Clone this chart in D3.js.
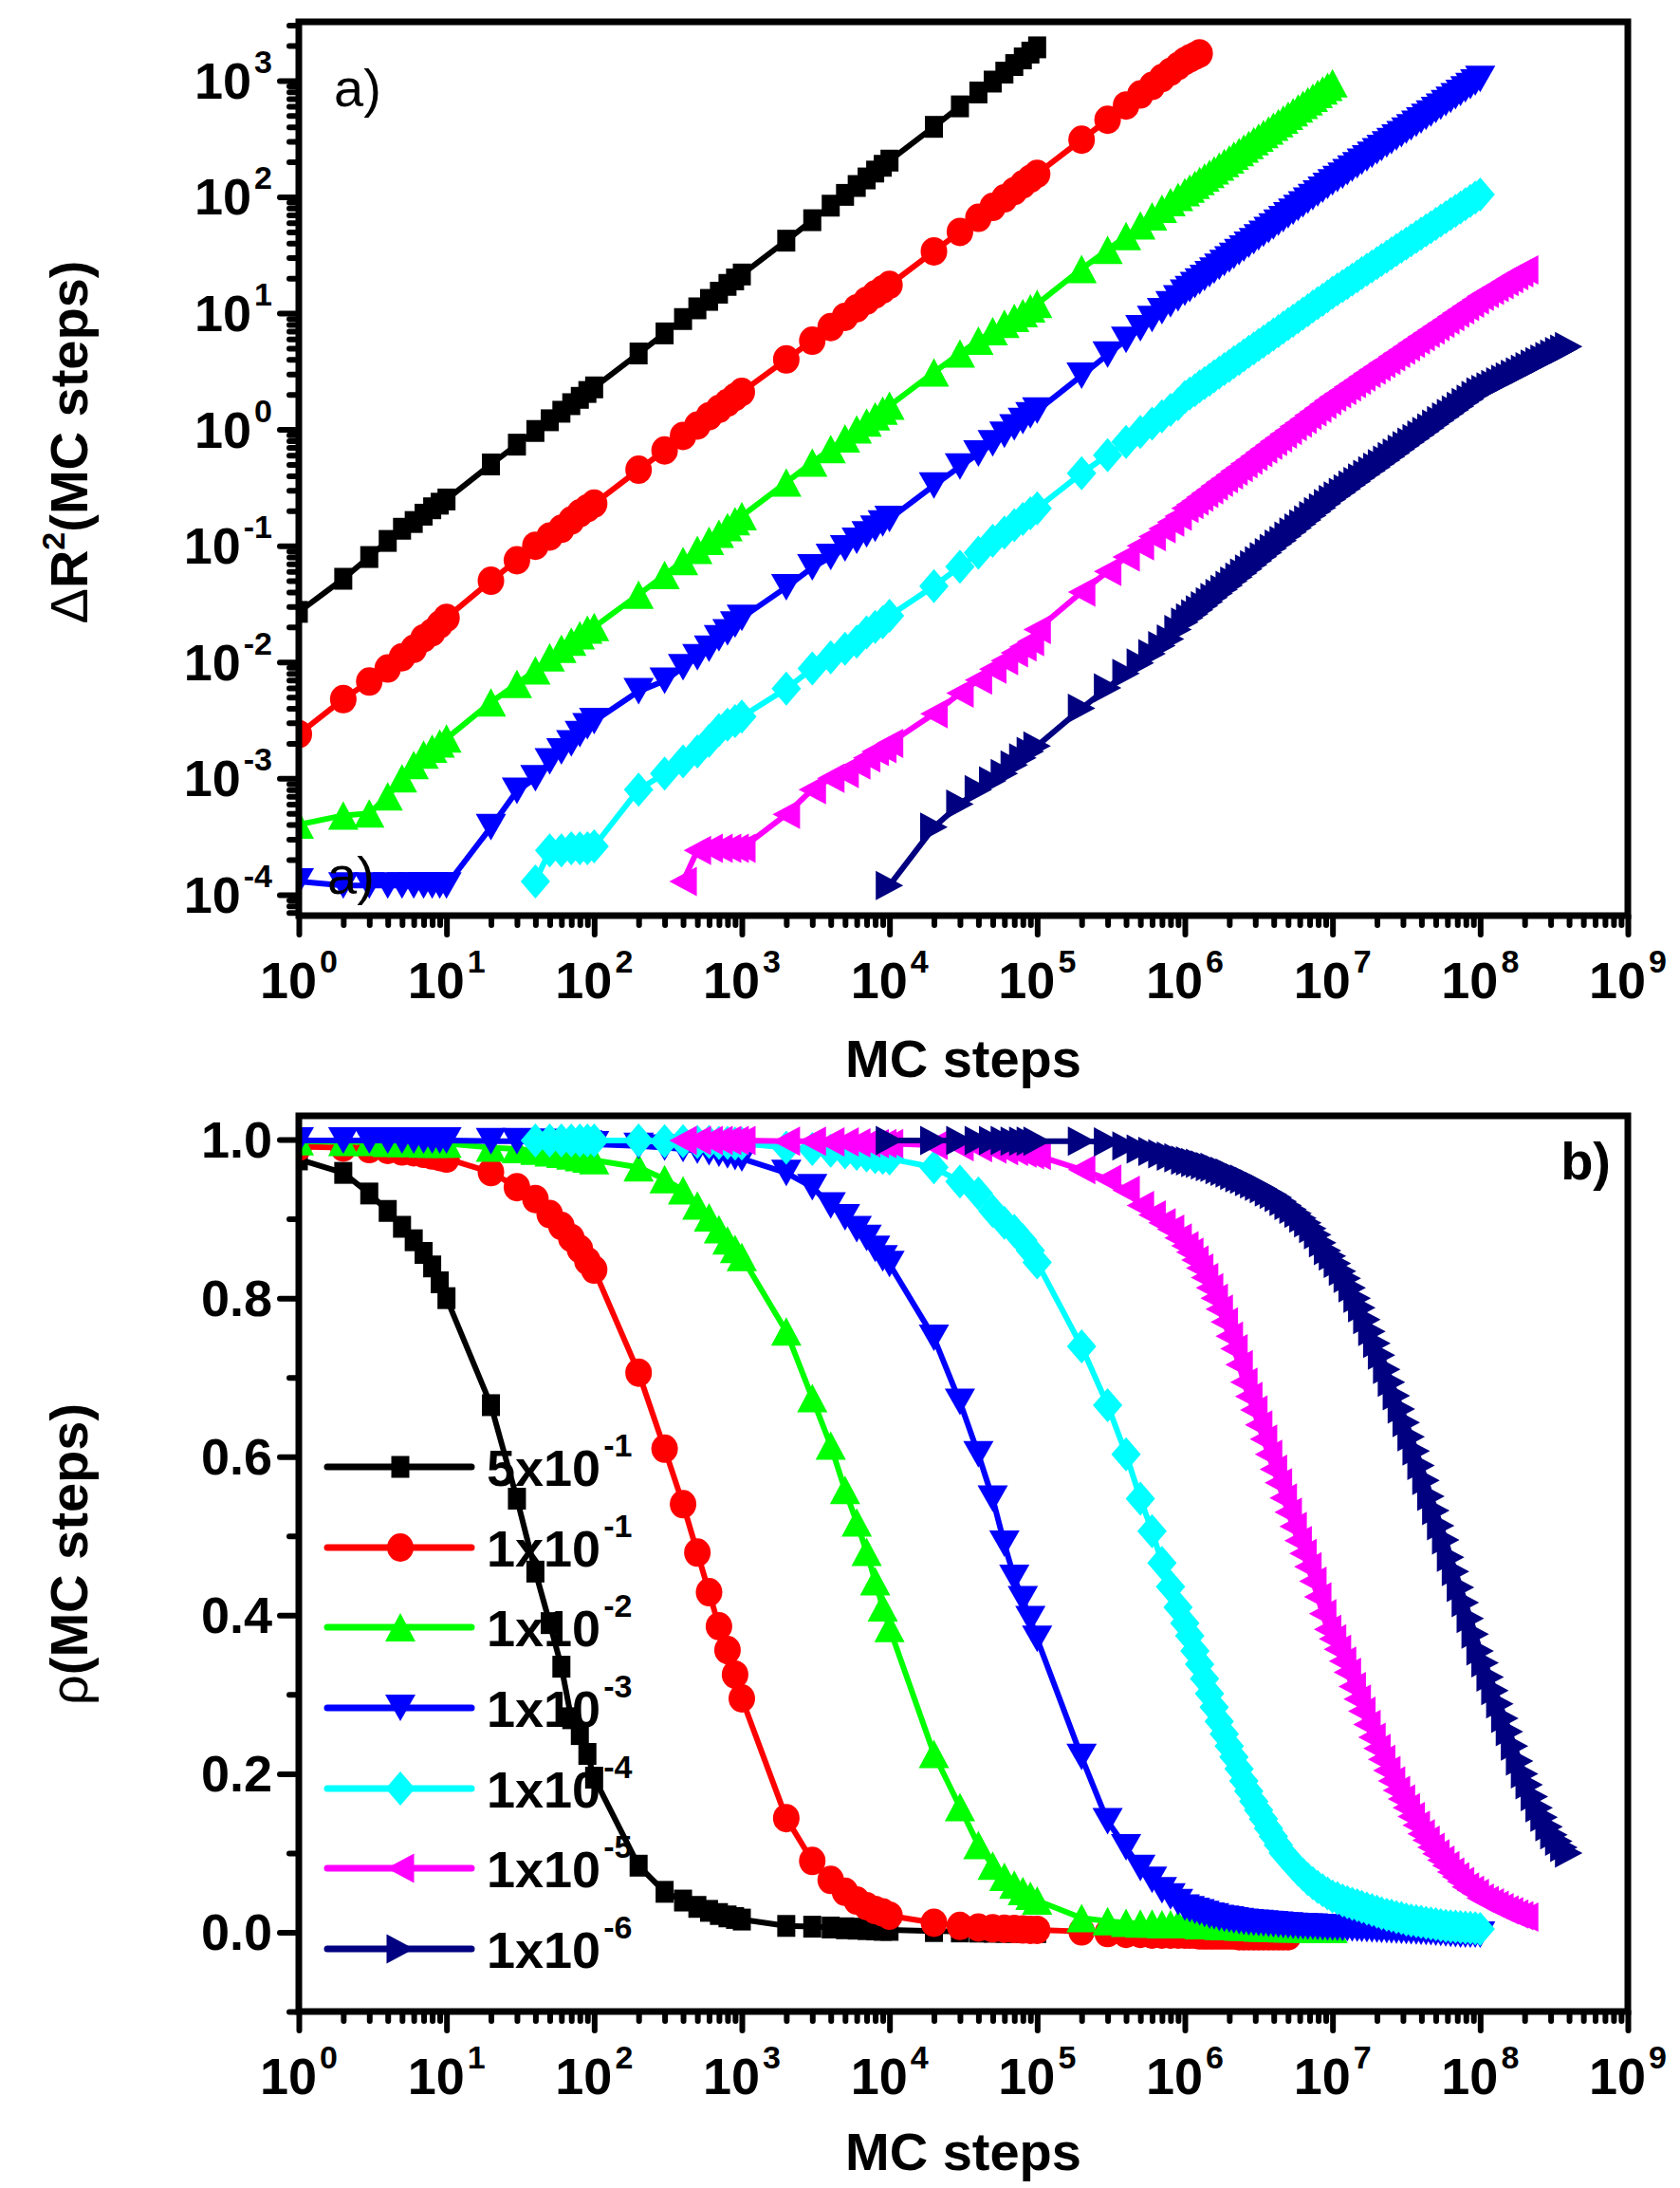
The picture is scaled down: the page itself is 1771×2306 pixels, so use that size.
<!DOCTYPE html>
<html>
<head>
<meta charset="utf-8">
<script src="https://cdn.jsdelivr.net/npm/d3@7"></script>
<style>
  body { margin: 0; background: #fff; }
  svg { display: block; }
  text { font-family: "Liberation Sans", Arial, sans-serif; fill: #000; }
</style>
</head>
<body>
<div id="chart"></div>
<script>
// MC steps at which the runs were sampled (dense sampling after 1e6)
const mcSteps = [
  1, 2, 3, 4, 5, 6, 7, 8, 9,
  10, 20, 30, 40, 50, 60, 70, 80, 90,
  100, 200, 300, 400, 500, 600, 700, 800, 900,
  1e3, 2e3, 3e3, 4e3, 5e3, 6e3, 7e3, 8e3, 9e3,
  1e4, 2e4, 3e4, 4e4, 5e4, 6e4, 7e4, 8e4, 9e4,
  1e5, 2e5, 3e5, 4e5, 5e5, 6e5, 7e5, 8e5, 9e5,
  1e6, 1.08e6, 1.17e6, 1.26e6, 1.36e6, 1.47e6, 1.58e6, 1.71e6, 1.85e6, 2e6,
  2.15e6, 2.33e6, 2.51e6, 2.71e6, 2.93e6, 3.16e6, 3.41e6, 3.69e6, 3.98e6, 4.3e6,
  4.64e6, 5.01e6, 5.41e6, 5.85e6, 6.31e6, 6.81e6, 7.36e6, 7.94e6, 8.58e6, 9.26e6,
  1e7, 1.08e7, 1.17e7, 1.26e7, 1.36e7, 1.47e7, 1.58e7, 1.71e7, 1.85e7, 2e7,
  2.15e7, 2.33e7, 2.51e7, 2.71e7, 2.93e7, 3.16e7, 3.41e7, 3.69e7, 3.98e7, 4.3e7,
  4.64e7, 5.01e7, 5.41e7, 5.85e7, 6.31e7, 6.81e7, 7.36e7, 7.94e7, 8.58e7, 9.26e7,
  1e8, 1.08e8, 1.17e8, 1.26e8, 1.36e8, 1.47e8, 1.58e8, 1.71e8, 1.85e8, 2e8,
  2.15e8, 2.33e8, 2.51e8, 2.71e8, 2.93e8, 3.16e8, 3.41e8, 3.69e8, 3.98e8
];

// legend / series
const legendBase = ["5x10", "1x10", "1x10", "1x10", "1x10", "1x10", "1x10"];
const legendExp = ["-1", "-1", "-2", "-3", "-4", "-5", "-6"];
const firstStep = [1, 1, 1, 1, 40, 400, 1e4];
const colors = ["#000000", "#ff0000", "#00ff00", "#0000ff", "#00ffff", "#ff00ff", "#000080"];
const symbols = ["square", "circle", "up", "down", "diamond", "left", "right"];

// panel a) : mean square displacement
const r2_5em1 = [0.027, 0.052, 0.08, 0.11, 0.14, 0.16, 0.185, 0.21, 0.23,
  0.25, 0.5, 0.74, 0.97, 1.2, 1.42, 1.65, 1.87, 2.1,
  2.3, 4.5, 6.7, 8.9, 11, 13, 15, 17.5, 19.5,
  21.5, 42, 63, 84, 104, 124, 144, 165, 185,
  205, 400, 600, 790, 980, 1170, 1360, 1550, 1740,
  1930];
const r2_1em1 = [0.0024, 0.0048, 0.0068, 0.0088, 0.011, 0.013, 0.016, 0.018, 0.021,
  0.024, 0.05, 0.075, 0.1, 0.12, 0.14, 0.165, 0.19, 0.21,
  0.23, 0.45, 0.66, 0.88, 1.08, 1.3, 1.5, 1.7, 1.9,
  2.1, 4, 5.8, 7.6, 9.3, 11, 12.8, 14.5, 16,
  17.5, 34, 50, 66, 82, 97, 112, 128, 143,
  158, 310, 460, 610, 760, 900, 1050, 1190, 1330,
  1470, 1550, 1630, 1710];
const r2_1em2 = [0.0004, 0.00048, 0.0005, 0.0007, 0.001, 0.0013, 0.0016, 0.0018, 0.002,
  0.0022, 0.0045, 0.0065, 0.0085, 0.011, 0.013, 0.015, 0.017, 0.019,
  0.02, 0.038, 0.056, 0.074, 0.092, 0.11, 0.127, 0.145, 0.163,
  0.18, 0.35, 0.52, 0.68, 0.84, 1.0, 1.15, 1.3, 1.45,
  1.6, 3.1, 4.5, 5.8, 7, 8.1, 9.1, 10, 11,
  12, 24, 35, 46, 57, 68, 79, 90, 100,
  110, 118, 127, 137, 147, 158, 169, 182, 196, 210,
  226, 243, 261, 280, 301, 323, 347, 373, 401, 431,
  463, 498, 535, 575, 617, 663, 713, 766, 823, 884,
  950];
const r2_1em3 = [1.3e-4, 1.2e-4, 1.2e-4, 1.2e-4, 1.2e-4, 1.2e-4, 1.2e-4, 1.2e-4, 1.2e-4,
  1.2e-4, 3.8e-4, 7.8e-4, 0.001, 0.0014, 0.0017, 0.002, 0.0024, 0.0028,
  0.0031, 0.0056, 0.0069, 0.009, 0.011, 0.013, 0.016, 0.018, 0.021,
  0.024, 0.044, 0.065, 0.08, 0.095, 0.11, 0.125, 0.14, 0.155,
  0.17, 0.33, 0.48, 0.62, 0.76, 0.9, 1.04, 1.18, 1.32,
  1.45, 2.9, 4.4, 5.9, 7.4, 8.9, 10.4, 11.9, 13.4,
  15, 16.1, 17.4, 18.7, 20.1, 21.6, 23.2, 25, 26.9, 28.9,
  31.1, 33.4, 35.9, 38.7, 41.6, 44.7, 48.1, 51.7, 55.6, 59.8,
  64.4, 69.3, 74.5, 80.1, 86.2, 92.7, 99.7, 107, 115, 124,
  133, 142, 152, 163, 175, 187, 200, 214, 230, 246,
  263, 282, 301, 323, 345, 370, 396, 424, 454, 486,
  520, 557, 596, 638, 683, 731, 783, 838, 897, 961,
  1030];
const r2_1em4 = [1.3e-4, 2.4e-4, 2.4e-4, 2.5e-4, 2.5e-4, 2.5e-4,
  2.6e-4, 8e-4, 0.0011, 0.0014, 0.0017, 0.0021, 0.0026, 0.0029, 0.0031,
  0.0034, 0.0059, 0.0088, 0.011, 0.013, 0.015, 0.018, 0.02, 0.022,
  0.025, 0.045, 0.066, 0.087, 0.11, 0.13, 0.15, 0.17, 0.19,
  0.21, 0.42, 0.6, 0.78, 0.95, 1.12, 1.3, 1.47, 1.65,
  1.9, 2.04, 2.18, 2.34, 2.5, 2.68, 2.87, 3.08, 3.3, 3.53,
  3.78, 4.05, 4.34, 4.65, 4.98, 5.33, 5.71, 6.12, 6.56, 7.02,
  7.51, 8.05, 8.62, 9.24, 9.9, 10.6, 11.4, 12.2, 13.0, 14.0,
  15, 16, 17.1, 18.2, 19.4, 20.7, 22.1, 23.6, 25.2, 26.9,
  28.7, 30.6, 32.7, 34.9, 37.2, 39.7, 42.4, 45.2, 48.2, 51.5,
  54.9, 58.6, 62.5, 66.7, 71.2, 75.9, 81, 86.4, 92.2, 98.4,
  105];
const r2_1em5 = [1.3e-4, 2.4e-4, 2.5e-4, 2.5e-4, 2.5e-4, 2.5e-4,
  2.5e-4, 4.9e-4, 8e-4, 0.001, 0.0011, 0.0013, 0.0015, 0.0017, 0.0018,
  0.002, 0.0036, 0.0054, 0.007, 0.0087, 0.0103, 0.012, 0.0135, 0.015,
  0.019, 0.04, 0.06, 0.08, 0.1, 0.12, 0.14, 0.16, 0.18,
  0.21, 0.226, 0.243, 0.262, 0.282, 0.303, 0.326, 0.351, 0.378, 0.407,
  0.438, 0.471, 0.507, 0.545, 0.587, 0.632, 0.68, 0.732, 0.787, 0.847,
  0.912, 0.981, 1.06, 1.14, 1.22, 1.32, 1.42, 1.52, 1.64, 1.77,
  1.9, 2.03, 2.17, 2.32, 2.48, 2.65, 2.83, 3.03, 3.24, 3.46,
  3.69, 3.94, 4.21, 4.5, 4.81, 5.14, 5.5, 5.88, 6.28, 6.71,
  7.16, 7.66, 8.18, 8.74, 9.35, 9.99, 10.7, 11.4, 12.2, 13.0,
  14, 14.8, 15.7, 16.6, 17.6, 18.7, 19.8, 21, 22.2, 23.5];
const r2_1em6 = [1.2e-4, 3.8e-4, 6e-4, 8e-4, 9.5e-4, 0.0011, 0.0013, 0.0015, 0.0017,
  0.0019, 0.004, 0.006, 0.008, 0.0098, 0.0118, 0.0138, 0.0158, 0.019,
  0.022, 0.0239, 0.0259, 0.0281, 0.0304, 0.033, 0.0358, 0.0388, 0.0421, 0.0456,
  0.0495, 0.0537, 0.0582, 0.0631, 0.0685, 0.0742, 0.0805, 0.0873, 0.0947, 0.103,
  0.111, 0.121, 0.131, 0.142, 0.154, 0.167, 0.181, 0.196, 0.212, 0.23,
  0.25, 0.268, 0.288, 0.309, 0.332, 0.356, 0.383, 0.411, 0.441, 0.473,
  0.508, 0.545, 0.585, 0.628, 0.675, 0.724, 0.777, 0.835, 0.896, 0.962,
  1.03, 1.11, 1.19, 1.28, 1.37, 1.47, 1.58, 1.7, 1.82, 1.96,
  2.1, 2.21, 2.32, 2.44, 2.56, 2.7, 2.83, 2.98, 3.13, 3.29,
  3.46, 3.64, 3.83, 4.02, 4.23, 4.44, 4.67, 4.91, 5.16];

// panel b) : density
const rho_5em1 = [0.975, 0.958, 0.932, 0.91, 0.89, 0.873, 0.857, 0.84, 0.82,
  0.80, 0.665, 0.547, 0.455, 0.39, 0.335, 0.27, 0.25, 0.225,
  0.195, 0.084, 0.051, 0.04, 0.032, 0.027, 0.023, 0.02, 0.018,
  0.016, 0.008, 0.007, 0.006, 0.005, 0.0045, 0.004, 0.0035, 0.003,
  0.003, 0.0015, 0.001, 0.0008, 0.0006, 0.0005, 0.0004, 0.0003, 0.0002,
  0.0002];
const rho_1em1 = [0.991, 0.99, 0.988, 0.987, 0.985, 0.984, 0.982, 0.98, 0.978,
  0.976, 0.959, 0.94, 0.925, 0.906, 0.891, 0.876, 0.862, 0.847,
  0.836, 0.706, 0.61, 0.54, 0.479, 0.429, 0.386, 0.356, 0.325,
  0.295, 0.144, 0.09, 0.066, 0.051, 0.04, 0.033, 0.028, 0.025,
  0.021, 0.012, 0.008, 0.006, 0.005, 0.0045, 0.004, 0.0035, 0.003,
  0.003, 0.001, -0.001, -0.002, -0.002, -0.003, -0.003, -0.003, -0.003,
  -0.003, -0.003, -0.003, -0.004, -0.004, -0.004, -0.004, -0.004, -0.004, -0.004,
  -0.004, -0.005, -0.005, -0.005, -0.005, -0.005, -0.005, -0.005, -0.005, -0.005,
  -0.005, -0.005];
const rho_1em2 = [0.998, 0.997, 0.997, 0.996, 0.996, 0.996, 0.995, 0.995, 0.995,
  0.995, 0.99, 0.988, 0.986, 0.984, 0.982, 0.98, 0.978, 0.976,
  0.974, 0.965, 0.95, 0.936, 0.917, 0.902, 0.887, 0.873, 0.862,
  0.852, 0.758, 0.674, 0.614, 0.558, 0.517, 0.48, 0.443, 0.41,
  0.384, 0.225, 0.158, 0.11, 0.084, 0.07, 0.06, 0.052, 0.046,
  0.04, 0.018, 0.014, 0.012, 0.011, 0.011, 0.01, 0.01, 0.01,
  0.01, 0.01, 0.01, 0.009, 0.009, 0.009, 0.009, 0.008, 0.008, 0.008,
  0.008, 0.007, 0.007, 0.007, 0.007, 0.006, 0.006, 0.006, 0.006, 0.006,
  0.005, 0.005, 0.005, 0.005, 0.005, 0.004, 0.004, 0.004, 0.004, 0.004,
  0.004];
const rho_1em3 = [0.999, 0.999, 0.999, 0.999, 0.999, 0.999, 0.999, 0.999, 0.999,
  0.999, 0.998, 0.998, 0.997, 0.997, 0.996, 0.996, 0.995, 0.995,
  0.994, 0.992, 0.99, 0.988, 0.986, 0.984, 0.982, 0.98, 0.978,
  0.976, 0.958, 0.94, 0.917, 0.902, 0.887, 0.876, 0.862, 0.85,
  0.843, 0.75, 0.669, 0.603, 0.547, 0.49, 0.447, 0.42, 0.395,
  0.37, 0.221, 0.14, 0.107, 0.081, 0.066, 0.053, 0.045, 0.038,
  0.031, 0.029, 0.027, 0.025, 0.023, 0.021, 0.02, 0.018, 0.017, 0.016,
  0.015, 0.014, 0.013, 0.0125, 0.012, 0.0115, 0.011, 0.0105, 0.01, 0.0095,
  0.009, 0.0085, 0.008, 0.0078, 0.0075, 0.0072, 0.007, 0.0066, 0.0063, 0.006,
  0.0058, 0.0055, 0.0052, 0.005, 0.0047, 0.0044, 0.0041, 0.0038, 0.0035, 0.0032,
  0.003, 0.0027, 0.0024, 0.0021, 0.0018, 0.0015, 0.0012, 0.0009, 0.0006, 0.0003,
  0.0, -0.0005, -0.001, -0.0015, -0.002, -0.0025, -0.003, -0.003, -0.003, -0.003,
  -0.003];
const rho_1em4 = [0.999, 0.999, 0.999, 0.999, 0.999, 0.999,
  0.999, 0.999, 0.998, 0.998, 0.997, 0.997, 0.996, 0.996, 0.995,
  0.995, 0.99, 0.988, 0.986, 0.984, 0.982, 0.98, 0.978, 0.977,
  0.976, 0.965, 0.947, 0.932, 0.91, 0.895, 0.885, 0.873, 0.86,
  0.845, 0.739, 0.665, 0.603, 0.547, 0.506, 0.466, 0.436, 0.41,
  0.39, 0.374, 0.355, 0.338, 0.32, 0.301, 0.284, 0.266, 0.25, 0.235,
  0.221, 0.206, 0.191, 0.178, 0.165, 0.154, 0.143, 0.131, 0.121, 0.11,
  0.1, 0.093, 0.086, 0.079, 0.073, 0.067, 0.062, 0.057, 0.053, 0.049,
  0.045, 0.043, 0.04, 0.038, 0.036, 0.034, 0.032, 0.03, 0.028, 0.026,
  0.024, 0.022, 0.021, 0.019, 0.018, 0.016, 0.015, 0.014, 0.013, 0.012,
  0.011, 0.01, 0.009, 0.008, 0.0075, 0.007, 0.0065, 0.006, 0.0055, 0.005,
  0.004];
const rho_1em5 = [0.999, 0.999, 0.999, 0.999, 0.999, 0.999,
  0.999, 0.998, 0.998, 0.997, 0.997, 0.996, 0.996, 0.995, 0.995,
  0.995, 0.993, 0.991, 0.99, 0.988, 0.986, 0.985, 0.983, 0.981,
  0.98, 0.962, 0.95, 0.936, 0.917, 0.905, 0.895, 0.887, 0.876,
  0.866, 0.858, 0.848, 0.838, 0.826, 0.813, 0.8, 0.786, 0.77, 0.752,
  0.736, 0.716, 0.694, 0.676, 0.659, 0.64, 0.622, 0.603, 0.584, 0.567,
  0.548, 0.53, 0.512, 0.494, 0.478, 0.461, 0.443, 0.423, 0.402, 0.382,
  0.37, 0.357, 0.342, 0.328, 0.31, 0.294, 0.279, 0.262, 0.246, 0.232,
  0.218, 0.204, 0.191, 0.179, 0.168, 0.157, 0.146, 0.135, 0.124, 0.116,
  0.107, 0.099, 0.091, 0.084, 0.076, 0.07, 0.064, 0.057, 0.053, 0.049,
  0.043, 0.04, 0.037, 0.034, 0.031, 0.028, 0.026, 0.023, 0.021, 0.019];
const rho_1em6 = [0.999, 0.999, 0.999, 0.999, 0.999, 0.999, 0.998, 0.998, 0.998,
  0.998, 0.998, 0.997, 0.992, 0.988, 0.985, 0.982, 0.979, 0.977,
  0.974, 0.973, 0.971, 0.97, 0.968, 0.966, 0.965, 0.962, 0.96, 0.958,
  0.955, 0.952, 0.95, 0.947, 0.944, 0.941, 0.938, 0.934, 0.931, 0.927,
  0.922, 0.917, 0.912, 0.907, 0.901, 0.895, 0.888, 0.88, 0.87, 0.86,
  0.853, 0.844, 0.834, 0.825, 0.813, 0.8, 0.788, 0.773, 0.758, 0.743,
  0.728, 0.71, 0.694, 0.677, 0.66, 0.643, 0.625, 0.607, 0.589, 0.57,
  0.55, 0.532, 0.513, 0.495, 0.473, 0.455, 0.435, 0.416, 0.396, 0.376,
  0.355, 0.34, 0.322, 0.305, 0.288, 0.27, 0.253, 0.235, 0.216, 0.2,
  0.186, 0.171, 0.157, 0.145, 0.133, 0.123, 0.115, 0.107, 0.1];

const r2Series = [r2_5em1, r2_1em1, r2_1em2, r2_1em3, r2_1em4, r2_1em5, r2_1em6];
const rhoSeries = [rho_5em1, rho_1em1, rho_1em2, rho_1em3, rho_1em4, rho_1em5, rho_1em6];

const W = 1771, H = 2306;
const left = 315, right = 1716;
const boxA = { top: 23, bottom: 965 };
const boxB = { top: 1176, bottom: 2120 };
const FONT = 54, SUP = 34;

const svg = d3.select("#chart").append("svg")
  .attr("width", W)
  .attr("height", H);

const x = d3.scaleLog().domain([1, 1e9]).range([left, right]);
const yA = d3.scaleLog().domain([6.6e-5, 3.2e3]).range([boxA.bottom, boxA.top]);
const yB = d3.scaleLinear().domain([-0.1, 1.03]).range([boxB.bottom, boxB.top]);

// marker shapes, w x h in px
const markerSize = {
  square: [19, 23], circle: [28, 30], up: [32, 30], down: [32, 28],
  diamond: [31, 36], left: [29, 31], right: [29, 31]
};
function markerPath(kind) {
  const [w, h] = markerSize[kind];
  const a = w / 2, b = h / 2;
  switch (kind) {
    case "square": return `M${-a},${-b}H${a}V${b}H${-a}Z`;
    case "circle": return `M${-a},0A${a},${b} 0 1 0 ${a},0A${a},${b} 0 1 0 ${-a},0Z`;
    case "up": return `M0,${-b}L${a},${b}L${-a},${b}Z`;
    case "down": return `M0,${b}L${a},${-b}L${-a},${-b}Z`;
    case "diamond": return `M0,${-b}L${a},0L0,${b}L${-a},0Z`;
    case "left": return `M${-a},0L${a},${-b}L${a},${b}Z`;
    case "right": return `M${a},0L${-a},${-b}L${-a},${b}Z`;
  }
}

function seriesPoints(i, vals) {
  const start = mcSteps.indexOf(firstStep[i]);
  return vals.map((v, k) => [mcSteps[start + k], v]);
}

// base + superscript label
function powerText(g, px, py, base, exp, anchor, size, supSize, rise) {
  const t = g.append("text")
    .attr("x", px)
    .attr("y", py)
    .attr("text-anchor", anchor)
    .style("font-size", size + "px")
    .style("font-weight", "bold");
  t.append("tspan").text(base);
  t.append("tspan")
    .attr("dx", 3)
    .attr("dy", -rise)
    .style("font-size", supSize + "px")
    .text(exp);
  return t;
}

const tickStyle = sel => {
  sel.select(".domain").remove();
  sel.selectAll("line")
    .attr("stroke", "#000")
    .attr("stroke-width", 6)
    .attr("stroke-linecap", "round");
};

function drawPanel(id, box, yScale, seriesList) {
  const g = svg.append("g");

  g.append("clipPath").attr("id", id)
    .append("rect")
    .attr("x", left).attr("y", box.top)
    .attr("width", right - left).attr("height", box.bottom - box.top);

  const data = g.append("g").attr("clip-path", `url(#${id})`);
  const line = d3.line().x(d => x(d[0])).y(d => yScale(d[1]));

  seriesList.forEach((vals, i) => {
    const pts = seriesPoints(i, vals);
    const s = data.append("g");
    s.append("path")
      .attr("d", line(pts))
      .attr("fill", "none")
      .attr("stroke", colors[i])
      .attr("stroke-width", 6)
      .attr("stroke-linejoin", "round");
    s.selectAll("path.m")
      .data(pts)
      .enter()
      .append("path")
      .attr("class", "m")
      .attr("d", markerPath(symbols[i]))
      .attr("transform", d => `translate(${x(d[0])},${yScale(d[1])})`)
      .attr("fill", colors[i]);
  });

  // x axis ticks
  const majX = d3.range(0, 10).map(k => Math.pow(10, k));
  const minX = [];
  for (let k = 0; k < 9; k++) for (let m = 2; m <= 9; m++) minX.push(+(m + "e" + k));

  g.append("g")
    .attr("transform", `translate(0,${box.bottom})`)
    .call(d3.axisBottom(x).tickValues(majX).tickSize(20).tickFormat(""))
    .call(tickStyle);
  g.append("g")
    .attr("transform", `translate(0,${box.bottom})`)
    .call(d3.axisBottom(x).tickValues(minX).tickSize(10).tickFormat(""))
    .call(tickStyle);

  majX.forEach((v, k) => {
    powerText(g, x(v), box.bottom + 87, "10", String(k), "middle", FONT, SUP, 27);
  });

  // frame
  g.append("rect")
    .attr("x", left).attr("y", box.top)
    .attr("width", right - left).attr("height", box.bottom - box.top)
    .attr("fill", "none")
    .attr("stroke", "#000")
    .attr("stroke-width", 7);

  g.append("text")
    .attr("x", (left + right) / 2)
    .attr("y", box === boxA ? 1135 : 2287)
    .attr("text-anchor", "middle")
    .style("font-size", "56px")
    .style("font-weight", "bold")
    .text("MC steps");

  return g;
}

// ---------- panel a ----------
const gA = drawPanel("clipA", boxA, yA, r2Series);

const majYA = d3.range(-4, 4).map(k => Math.pow(10, k));
const minYA = [];
for (let k = -5; k <= 3; k++) for (let m = 2; m <= 9; m++) {
  const v = +(m + "e" + k);
  if (v >= 6.6e-5 && v <= 3.2e3) minYA.push(v);
}
gA.append("g")
  .attr("transform", `translate(${left},0)`)
  .call(d3.axisLeft(yA).tickValues(majYA).tickSize(20).tickFormat(""))
  .call(tickStyle);
gA.append("g")
  .attr("transform", `translate(${left},0)`)
  .call(d3.axisLeft(yA).tickValues(minYA).tickSize(10).tickFormat(""))
  .call(tickStyle);
d3.range(-4, 4).forEach(k => {
  powerText(gA, 287, yA(Math.pow(10, k)) + 19, "10", String(k), "end", FONT, SUP, 27);
});

const titleA = gA.append("text")
  .attr("transform", "translate(92,466) rotate(-90)")
  .attr("text-anchor", "middle")
  .style("font-size", "56px")
  .style("font-weight", "bold");
titleA.append("tspan").style("font-weight", "normal").text("Δ");
titleA.append("tspan").text("R");
titleA.append("tspan").attr("dy", -24).style("font-size", "34px").text("2");
titleA.append("tspan").attr("dy", 24).text("(MC steps)");

gA.append("text").attr("x", 352).attr("y", 112)
  .style("font-size", "56px").text("a)");
gA.append("text").attr("x", 345).attr("y", 942)
  .style("font-size", "56px").text("a)");

// ---------- panel b ----------
const gB = drawPanel("clipB", boxB, yB, rhoSeries);

const majYB = [0, 0.2, 0.4, 0.6, 0.8, 1.0];
const minYB = [-0.1, 0.1, 0.3, 0.5, 0.7, 0.9];
gB.append("g")
  .attr("transform", `translate(${left},0)`)
  .call(d3.axisLeft(yB).tickValues(majYB).tickSize(20).tickFormat(""))
  .call(tickStyle);
gB.append("g")
  .attr("transform", `translate(${left},0)`)
  .call(d3.axisLeft(yB).tickValues(minYB).tickSize(10).tickFormat(""))
  .call(tickStyle);
majYB.forEach(v => {
  gB.append("text")
    .attr("x", 287)
    .attr("y", yB(v) + 19)
    .attr("text-anchor", "end")
    .style("font-size", FONT + "px")
    .style("font-weight", "bold")
    .text(d3.format(".1f")(v));
});

const titleB = gB.append("text")
  .attr("transform", "translate(92,1638) rotate(-90)")
  .attr("text-anchor", "middle")
  .style("font-size", "56px")
  .style("font-weight", "bold");
titleB.append("tspan").style("font-weight", "normal").text("ρ");
titleB.append("tspan").text("(MC steps)");

gB.append("text").attr("x", 1698).attr("y", 1243)
  .attr("text-anchor", "end")
  .style("font-size", "56px")
  .style("font-weight", "bold")
  .text("b)");

// legend
const legendY = [1546, 1631, 1715, 1800, 1885, 1969, 2054];
const legend = gB.append("g");
legendBase.forEach((b, i) => {
  const ly = legendY[i];
  legend.append("line")
    .attr("x1", 345).attr("x2", 497)
    .attr("y1", ly).attr("y2", ly)
    .attr("stroke", colors[i])
    .attr("stroke-width", 7)
    .attr("stroke-linecap", "round");
  legend.append("path")
    .attr("d", markerPath(symbols[i]))
    .attr("transform", `translate(422,${ly})`)
    .attr("fill", colors[i]);
  powerText(legend, 513, ly + 20, b, legendExp[i], "start", FONT, SUP, 31);
});
</script>
</body>
</html>
